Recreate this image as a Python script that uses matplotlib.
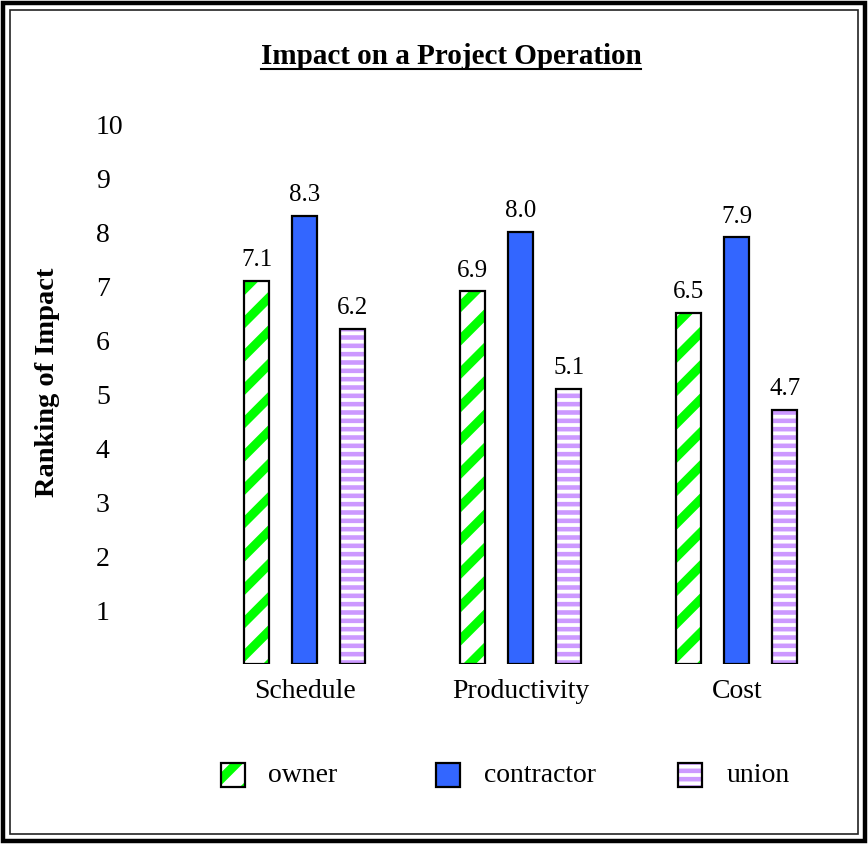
import matplotlib
matplotlib.use("Agg")
import matplotlib as mpl
import matplotlib.pyplot as plt
from matplotlib.patches import Rectangle
from matplotlib.lines import Line2D
import numpy as np

# Data
categories = ["Schedule", "Productivity", "Cost"]
series_names = ["owner", "contractor", "union"]
owner = [7.1, 6.9, 6.5]
contractor = [8.3, 8.0, 7.9]
union = [6.2, 5.1, 4.7]
y_ticks = [1, 2, 3, 4, 5, 6, 7, 8, 9, 10]

W, H, DPI = 868, 844, 100
plt.rcParams["font.family"] = ["Liberation Serif", "DejaVu Serif"]

fig = plt.figure(figsize=(W / DPI, H / DPI), dpi=DPI)
fig.patch.set_facecolor("white")


def fx(x):
    return x / W


def fy(y):
    return 1 - y / H


# Plot area (pixel layout)
ax_left, ax_right, ax_top, ax_bottom = 180, 860, 100, 664
ax = fig.add_axes([fx(ax_left), fy(ax_bottom), (ax_right - ax_left) / W,
                   (ax_bottom - ax_top) / H])
ax.set_facecolor("none")
for s in ax.spines.values():
    s.set_visible(False)

group_px = 216.0
first_center = 304.8
ax.set_xlim((ax_left - first_center) / group_px, (ax_right - first_center) / group_px)
ax.set_ylim(0, (ax_bottom - ax_top) / 54.0)

x = np.arange(len(categories))
offset = 0.222
width = 0.116

styles = [
    dict(vals=owner, pos=x - offset, face="white", hatch="/", hcolor="#00FF00", hlw=6.5),
    dict(vals=contractor, pos=x, face="#3366FF", hatch=None, hcolor="#3366FF", hlw=1.0),
    dict(vals=union, pos=x + offset, face="white", hatch="--", hcolor="#CC99FF", hlw=3.3),
]

for st in styles:
    # hatch line width is taken from rcParams when the bars are created
    with mpl.rc_context({"hatch.linewidth": st["hlw"]}):
        ax.bar(st["pos"], st["vals"], width, color=st["face"], hatch=st["hatch"],
               edgecolor=st["hcolor"], linewidth=0, zorder=2)
    outline = ax.bar(st["pos"], st["vals"], width, fill=False, edgecolor="black",
                     linewidth=1.6, zorder=3)
    ax.bar_label(outline, labels=[f"{v:.1f}" for v in st["vals"]], padding=7,
                 fontsize=18)

ax.set_yticks(y_ticks)
ax.set_yticklabels([str(t) for t in y_ticks])
ax.tick_params(axis="y", length=0, pad=(ax_left - 96) * 72 / DPI, labelsize=20)
for lab in ax.get_yticklabels():
    lab.set_horizontalalignment("left")
ax.set_xticks(x)
ax.set_xticklabels(categories)
ax.tick_params(axis="x", length=0, pad=11, labelsize=20)

# Axis title
fig.text(fx(48), fy(382), "Ranking of Impact", rotation=90, fontsize=20.5,
         fontweight="bold", ha="center", va="center")

# Chart title with underline
title = fig.text(fx(451), fy(57), "Impact on a Project Operation", fontsize=21,
                 fontweight="bold", ha="center", va="center")
fig.canvas.draw()
bb = title.get_window_extent(renderer=fig.canvas.get_renderer())
uy = bb.y0 + 2
fig.add_artist(Line2D([bb.x0 / W, bb.x1 / W], [uy / H, uy / H], color="black",
                      linewidth=1.5, transform=fig.transFigure))

# Legend
legend_items = [(styles[0], 220.7, 268), (styles[1], 436, 484), (styles[2], 678, 727)]
box = 24
box_top = 762.7
for (st, bx, tx), name in zip(legend_items, series_names):
    with mpl.rc_context({"hatch.linewidth": st["hlw"]}):
        r = Rectangle((fx(bx), fy(box_top + box)), box / W, box / H,
                      transform=fig.transFigure, facecolor=st["face"],
                      hatch=st["hatch"], edgecolor=st["hcolor"], linewidth=0)
    fig.add_artist(r)
    fig.add_artist(Rectangle((fx(bx), fy(box_top + box)), box / W, box / H,
                             transform=fig.transFigure, fill=False,
                             edgecolor="black", linewidth=1.6))
    fig.text(fx(tx), fy(box_top + box / 2 + 1), name, fontsize=20,
             ha="left", va="center")

# Double frame around the figure
fig.add_artist(Rectangle((fx(3), fy(H - 3)), (W - 6) / W, (H - 6) / H,
                         transform=fig.transFigure, fill=False,
                         edgecolor="black", linewidth=3.2))
fig.add_artist(Rectangle((fx(10), fy(H - 10)), (W - 20) / W, (H - 20) / H,
                         transform=fig.transFigure, fill=False,
                         edgecolor="#222222", linewidth=1.2))

fig.savefig("out.png", dpi=DPI, facecolor="white")
